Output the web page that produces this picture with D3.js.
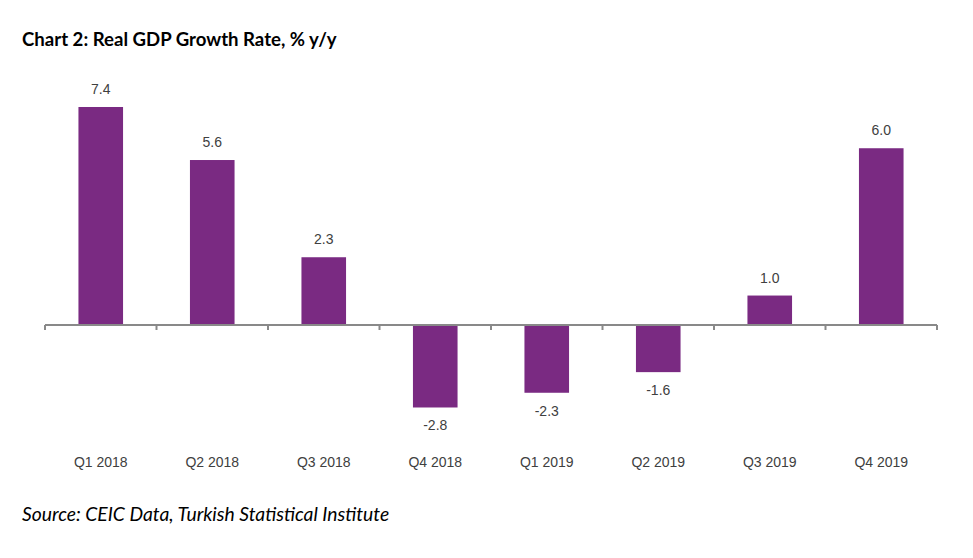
<!DOCTYPE html>
<html><head><meta charset="utf-8">
<script src="https://cdn.jsdelivr.net/npm/d3@7"></script>
<style>body{margin:0;background:#fff}</style>
</head><body>
<svg id="c" width="973" height="558"></svg>
<script>
const categories = ["Q1 2018","Q2 2018","Q3 2018","Q4 2018","Q1 2019","Q2 2019","Q3 2019","Q4 2019"];
const growth = [7.4, 5.6, 2.3, -2.8, -2.3, -1.6, 1.0, 6.0];
const titleText = "Chart 2: Real GDP Growth Rate, % y/y";
const sourceText = "Source: CEIC Data, Turkish Statistical Institute";

const svg = d3.select("#c");
const k = 29.46, zeroY = 325;
const x = d3.scaleBand().domain(categories).range([45, 937]).paddingInner(0.6).paddingOuter(0.3);
const y = d3.scaleLinear().domain([-4, 8]).range([zeroY + 4*k, zeroY - 8*k]);
const color = "#7a2a82";

svg.append("text").attr("x", 22).attr("y", 46)
  .style("font-family", "Lato, 'Open Sans', sans-serif").style("font-weight", "bold").style("font-size", "18.6px")
  .attr("fill", "#000").text(titleText);

svg.selectAll("rect.bar").data(growth).join("rect").attr("class","bar")
  .attr("x", (d,i) => x(categories[i]))
  .attr("width", x.bandwidth())
  .attr("y", d => y(Math.max(0,d)))
  .attr("height", d => Math.abs(y(d) - y(0)))
  .attr("fill", color);

svg.selectAll("text.val").data(growth).join("text").attr("class","val")
  .attr("x", (d,i) => x(categories[i]) + x.bandwidth()/2)
  .attr("y", d => d >= 0 ? y(d) - 13 : y(d) + 23)
  .attr("text-anchor", "middle")
  .style("font-family", "'Liberation Sans', Arial, sans-serif").style("font-size", "14px")
  .attr("fill", "#404040")
  .text(d => d.toFixed(1));

// zero axis
const axisG = svg.append("g").attr("transform", `translate(0,${y(0)})`);
const bounds = d3.range(categories.length + 1).map(i => 45 + i * (892 / categories.length));
axisG.append("line").attr("x1", 45).attr("x2", 937).attr("y1", 0).attr("y2", 0)
  .attr("stroke", "#898989").attr("stroke-width", 2);
axisG.selectAll("line.tick").data(bounds).join("line").attr("class","tick")
  .attr("x1", d => d).attr("x2", d => d).attr("y1", 0).attr("y2", 5)
  .attr("stroke", "#898989").attr("stroke-width", 2);

svg.selectAll("text.cat").data(categories).join("text").attr("class","cat")
  .attr("x", d => x(d) + x.bandwidth()/2)
  .attr("y", 467)
  .attr("text-anchor", "middle")
  .style("font-family", "'Liberation Sans', Arial, sans-serif").style("font-size", "14px")
  .attr("fill", "#404040")
  .text(d => d);

svg.append("text").attr("x", 22).attr("y", 521)
  .style("font-family", "Lato, 'Open Sans', sans-serif").style("font-style", "italic").style("font-size", "19.3px")
  .attr("fill", "#000").text(sourceText);
</script>
</body></html>
